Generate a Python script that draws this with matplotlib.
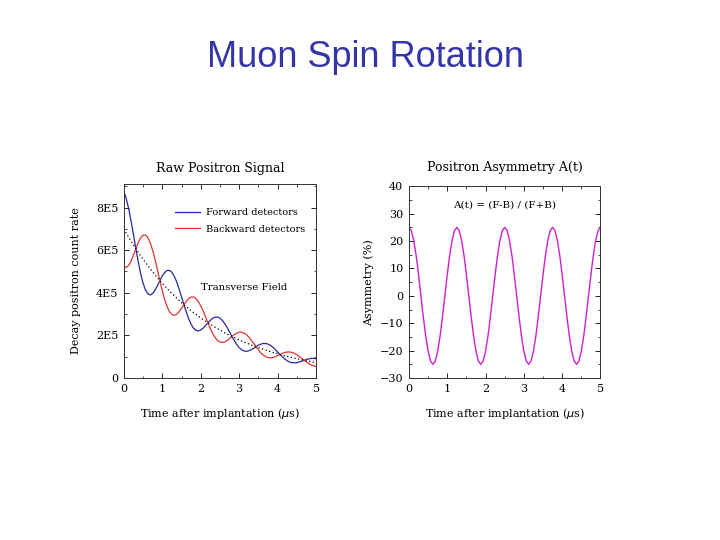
import numpy as np
import matplotlib
matplotlib.use("Agg")
import matplotlib.pyplot as plt
from matplotlib.ticker import MultipleLocator

# time grid (microseconds), 81 samples from 0 to 5
t = np.linspace(0, 5, 81)

# count rates in units of 1E5
forward = [8.75, 8.42, 7.95, 7.37, 6.73, 6.07, 5.45, 4.90, 4.45, 4.13,
           3.95, 3.90, 3.97, 4.13, 4.34, 4.57, 4.79, 4.95, 5.05, 5.05,
           4.96, 4.77, 4.51, 4.18, 3.81, 3.44, 3.09, 2.77, 2.52, 2.34,
           2.24, 2.21, 2.25, 2.34, 2.46, 2.59, 2.71, 2.81, 2.86, 2.86,
           2.81, 2.70, 2.55, 2.37, 2.16, 1.95, 1.75, 1.57, 1.43, 1.33,
           1.27, 1.25, 1.28, 1.33, 1.39, 1.47, 1.54, 1.59, 1.62, 1.62,
           1.59, 1.53, 1.45, 1.34, 1.22, 1.10, 0.99, 0.89, 0.81, 0.75,
           0.72, 0.71, 0.72, 0.75, 0.79, 0.83, 0.87, 0.90, 0.92, 0.92,
           0.90]
backward = [5.25, 5.19, 5.28, 5.48, 5.77, 6.07, 6.36, 6.58, 6.71, 6.71,
            6.59, 6.34, 5.99, 5.55, 5.07, 4.57, 4.10, 3.68, 3.35, 3.11,
            2.98, 2.94, 2.99, 3.11, 3.27, 3.44, 3.60, 3.73, 3.80, 3.80,
            3.73, 3.59, 3.39, 3.14, 2.87, 2.59, 2.32, 2.09, 1.90, 1.76,
            1.69, 1.67, 1.69, 1.76, 1.85, 1.95, 2.04, 2.11, 2.15, 2.15,
            2.11, 2.04, 1.92, 1.78, 1.63, 1.47, 1.32, 1.18, 1.08, 1.00,
            0.96, 0.94, 0.96, 1.00, 1.05, 1.10, 1.16, 1.20, 1.22, 1.22,
            1.20, 1.15, 1.09, 1.01, 0.92, 0.83, 0.75, 0.67, 0.61, 0.57,
            0.54]
average = [7.00, 6.80, 6.61, 6.43, 6.25, 6.07, 5.90, 5.74, 5.58, 5.42,
           5.27, 5.12, 4.98, 4.84, 4.70, 4.57, 4.44, 4.32, 4.20, 4.08,
           3.97, 3.86, 3.75, 3.64, 3.54, 3.44, 3.34, 3.25, 3.16, 3.07,
           2.99, 2.90, 2.82, 2.74, 2.66, 2.59, 2.52, 2.45, 2.38, 2.31,
           2.25, 2.18, 2.12, 2.06, 2.01, 1.95, 1.90, 1.84, 1.79, 1.74,
           1.69, 1.64, 1.60, 1.55, 1.51, 1.47, 1.43, 1.39, 1.35, 1.31,
           1.27, 1.24, 1.20, 1.17, 1.14, 1.10, 1.07, 1.04, 1.01, 0.99,
           0.96, 0.93, 0.91, 0.88, 0.86, 0.83, 0.81, 0.79, 0.76, 0.74,
           0.72]

# asymmetry in percent
asym_period = [25.0, 23.8, 20.2, 14.7, 7.7, 0.0, -7.7, -14.7, -20.2, -23.8,
               -25.0, -23.8, -20.2, -14.7, -7.7, 0.0, 7.7, 14.7, 20.2, 23.8]
asymmetry = asym_period * 4 + [25.0]

count_ticks = [0, 2, 4, 6, 8]
count_labels = ["0", "2E5", "4E5", "6E5", "8E5"]

serif = "DejaVu Serif"
plt.rcParams["font.family"] = serif

fig = plt.figure(figsize=(7.2, 5.4), dpi=100)
fig.text(0.507, 0.893, "Muon Spin Rotation", ha="center", va="center",
         fontsize=26, color="#3535A8", family="Liberation Sans")


def style_axes(ax):
    ax.tick_params(direction="in", top=True, right=True, length=3.5, width=0.6,
                   labelsize=8, pad=4)
    ax.tick_params(which="minor", direction="in", top=True, right=True,
                   length=1.8, width=0.5)
    for s in ax.spines.values():
        s.set_linewidth(0.7)
        s.set_color("#333333")
    ax.set_xlim(0, 5)
    ax.xaxis.set_major_locator(MultipleLocator(1))
    ax.xaxis.set_minor_locator(MultipleLocator(0.5))
    ax.set_xlabel(r"Time after implantation ($\mu$s)", fontsize=8, labelpad=9)


# left panel
ax1 = fig.add_axes([0.172, 0.300, 0.267, 0.359])
ax1.plot(t, forward, color="#2828A0", lw=0.9, label="Forward detectors")
ax1.plot(t, backward, color="#E03434", lw=0.9, label="Backward detectors")
ax1.plot(t, average, color="black", lw=0.9, ls=(0, (1, 2)))
style_axes(ax1)
ax1.set_ylim(0, 9.1)
ax1.set_yticks(count_ticks)
ax1.set_yticklabels(count_labels)
ax1.yaxis.set_minor_locator(MultipleLocator(1))
ax1.set_ylabel("Decay positron count rate", fontsize=8, labelpad=11)
ax1.set_title("Raw Positron Signal", fontsize=9, pad=9)
ax1.legend(loc="upper left", bbox_to_anchor=(0.22, 0.92), frameon=False,
           fontsize=7, handlelength=2.6, labelspacing=0.75, handletextpad=0.6)
ax1.text(0.40, 0.455, "Transverse Field", transform=ax1.transAxes, fontsize=7.3)

# right panel
ax2 = fig.add_axes([0.568, 0.300, 0.266, 0.355])
ax2.plot(t, asymmetry, color="#D020D0", lw=1.0)
style_axes(ax2)
ax2.set_ylim(-30, 40)
ax2.yaxis.set_major_locator(MultipleLocator(10))
ax2.yaxis.set_minor_locator(MultipleLocator(5))
ax2.set_ylabel("Asymmetry (%)", fontsize=8, labelpad=4)
ax2.set_title("Positron Asymmetry A(t)", fontsize=9, pad=11)
ax2.text(0.5, 0.9, "A(t) = (F-B) / (F+B)", transform=ax2.transAxes,
         ha="center", va="center", fontsize=7.5)

fig.savefig("out.png", dpi=100)
